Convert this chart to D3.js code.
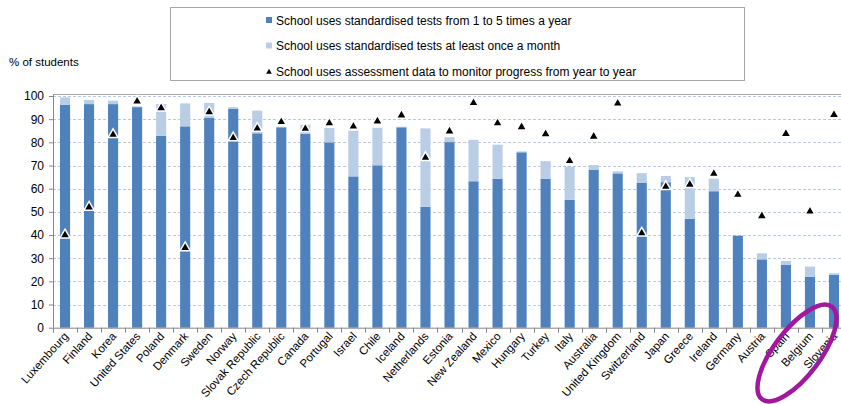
<!DOCTYPE html>
<html>
<head>
  <meta charset="utf-8"/>
  <title>Standardised tests</title>
  <style>
    body { margin: 0; background: #fff; }
    text { font-family: Arial, "Liberation Sans", sans-serif; fill: #000; }
  </style>
</head>
<body>
<div id="chart"></div>
<script src="https://cdn.jsdelivr.net/npm/d3@7"></script>
<script>
    // countries, ordered as in the chart
    var countries = ["Luxembourg","Finland","Korea","United States","Poland","Denmark","Sweden","Norway",
      "Slovak Republic","Czech Republic","Canada","Portugal","Israel","Chile","Iceland","Netherlands",
      "Estonia","New Zealand","Mexico","Hungary","Turkey","Italy","Australia","United Kingdom",
      "Switzerland","Japan","Greece","Ireland","Germany","Austria","Spain","Belgium","Slovenia"];
    // School uses standardised tests from 1 to 5 times a year
    var tests1to5 = [96.2,96.5,96.5,95.2,82.8,86.9,90.5,94.5,
      83.9,86.5,83.7,80.0,65.3,70.1,86.5,52.2,
      80.1,63.2,64.2,75.7,64.2,55.2,68.2,66.6,
      62.6,62.8,47.0,58.9,39.7,29.5,27.1,22.0,22.8];
    // School uses standardised tests at least once a month (stacked on top)
    var testsMonthly = [3.2,1.8,1.5,0.3,13.7,9.9,6.5,0.7,
      9.8,0.2,3.9,6.2,19.7,16.2,0.2,33.8,
      2.1,17.9,14.8,0.4,7.7,14.3,2.0,0.9,
      4.1,2.7,18.0,5.4,0,2.6,1.7,4.4,0.7];
    // School uses assessment data to monitor progress from year to year
    var monitorProgress = [40.0,52.0,83.3,97.7,94.8,34.5,93.1,81.9,
      86.0,88.8,85.9,88.3,86.9,89.1,91.7,73.4,
      84.8,97.0,88.3,86.6,83.6,72.0,82.5,96.8,
      40.8,60.9,61.8,66.5,57.4,48.2,83.7,50.2,91.9];
    var yTicks = [0,10,20,30,40,50,60,70,80,90,100];
    var legendLabels = ["School uses standardised tests from 1 to 5 times a year",
      "School uses standardised tests at least once a month",
      "School uses assessment data to monitor progress from year to year"];

    var W = 841, H = 404;
    var dark = "#4F81BD", light = "#B9CDE5";

    var svg = d3.select("#chart").append("svg")
        .attr("width", W).attr("height", H);

    var x = d3.scaleBand().domain(countries).range([53, 846]).padding(0);
    var y = d3.scaleLinear().domain([0, 100]).range([327.7, 96]);
    var barW = x.bandwidth() * 0.42;

    // gridlines
    svg.append("g").selectAll("line").data(yTicks.filter(function(d){ return d > 0; }))
      .enter().append("line")
        .attr("x1", 53).attr("x2", W)
        .attr("y1", function(d){ return Math.round(y(d)) + 0.5; })
        .attr("y2", function(d){ return Math.round(y(d)) + 0.5; })
        .attr("stroke", "#B7C9EA").attr("stroke-width", 1)
        .attr("stroke-dasharray", "3,2");

    // plot area top border
    svg.append("line").attr("x1", 53).attr("x2", W)
      .attr("y1", Math.round(y(100)) - 1.5).attr("y2", Math.round(y(100)) - 1.5)
      .attr("stroke", "#A6A6A6").attr("stroke-width", 1);

    var data = countries.map(function(c, i){
      return {c: c, a: tests1to5[i], b: testsMonthly[i], m: monitorProgress[i]};
    });

    // dark segment
    svg.append("g").selectAll("rect").data(data).enter().append("rect")
      .attr("x", function(d){ return x(d.c) + (x.bandwidth() - barW) / 2; })
      .attr("width", barW)
      .attr("y", function(d){ return y(d.a); })
      .attr("height", function(d){ return y(0) - y(d.a); })
      .attr("fill", dark);

    // light segment stacked on top
    svg.append("g").selectAll("rect").data(data).enter().append("rect")
      .attr("x", function(d){ return x(d.c) + (x.bandwidth() - barW) / 2; })
      .attr("width", barW)
      .attr("y", function(d){ return y(d.a + d.b); })
      .attr("height", function(d){ return y(d.a) - y(d.a + d.b); })
      .attr("fill", light);

    // y axis
    var yAxis = svg.append("g").attr("transform", "translate(53,0)")
      .call(d3.axisLeft(y).tickValues(yTicks).tickSize(4).tickPadding(5));
    yAxis.select(".domain").attr("stroke", "#868686").attr("d", "M0.5," + y(0) + "V" + (y(100) - 1.5));
    yAxis.selectAll(".tick line").attr("stroke", "#868686");
    yAxis.selectAll(".tick text").attr("font-size", 12).attr("fill", "#000")
      .style("font-family", "Arial, 'Liberation Sans', sans-serif");

    // x axis: ticks on band boundaries
    var xAxis = svg.append("g").attr("transform", "translate(0," + y(0) + ")");
    xAxis.append("line").attr("x1", 53).attr("x2", W).attr("y1", 0.5).attr("y2", 0.5)
      .attr("stroke", "#868686");
    xAxis.selectAll("line.tk").data(countries).enter().append("line")
      .attr("class", "tk")
      .attr("x1", function(d){ return Math.round(x(d)) + 0.5; })
      .attr("x2", function(d){ return Math.round(x(d)) + 0.5; })
      .attr("y1", 0).attr("y2", 5).attr("stroke", "#868686");
    xAxis.selectAll("text").data(countries).enter().append("text")
      .attr("transform", function(d){
        return "translate(" + (x(d) + x.bandwidth() / 2 + 4) + ",9) rotate(-48)";
      })
      .attr("text-anchor", "end")
      .attr("font-size", 11.5)
      .text(function(d){ return d; });

    // triangles
    svg.append("g").selectAll("path").data(data).enter().append("path")
      .attr("d", d3.symbol().type(d3.symbolTriangle).size(44))
      .attr("transform", function(d){
        return "translate(" + (x(d.c) + x.bandwidth() / 2) + "," + y(d.m) + ")";
      })
      .attr("fill", "#000").attr("stroke", "#fff").attr("stroke-width", 1.5);

    // y label
    svg.append("text").attr("x", 9).attr("y", 66).attr("font-size", 11.5)
      .text("% of students");

    // legend
    var lg = svg.append("g");
    lg.append("rect").attr("x", 170.5).attr("y", 7.5).attr("width", 574).attr("height", 73)
      .attr("fill", "#fff").attr("stroke", "#A6A6A6");
    var rows = lg.selectAll("g").data(legendLabels).enter().append("g")
      .attr("transform", function(d, i){ return "translate(271," + (20 + i * 25.5) + ")"; });
    rows.append("text").attr("x", 5).attr("y", 4.5).attr("font-size", 12)
      .text(function(d){ return d; });
    rows.filter(function(d, i){ return i < 2; }).append("rect")
      .attr("x", -5).attr("y", -3).attr("width", 6).attr("height", 6)
      .attr("fill", function(d, i){ return i === 0 ? dark : light; });
    rows.filter(function(d, i){ return i === 2; }).append("path")
      .attr("d", d3.symbol().type(d3.symbolTriangle).size(14))
      .attr("transform", "translate(-2,1)")
      .attr("fill", "#000");

    // hand-drawn highlight around the last countries
    svg.append("ellipse")
      .attr("cx", 797).attr("cy", 353).attr("rx", 58).attr("ry", 23)
      .attr("transform", "rotate(-53,797,353)")
      .attr("fill", "none").attr("stroke", "#A1189E").attr("stroke-width", 4.5);
</script>
</body>
</html>
